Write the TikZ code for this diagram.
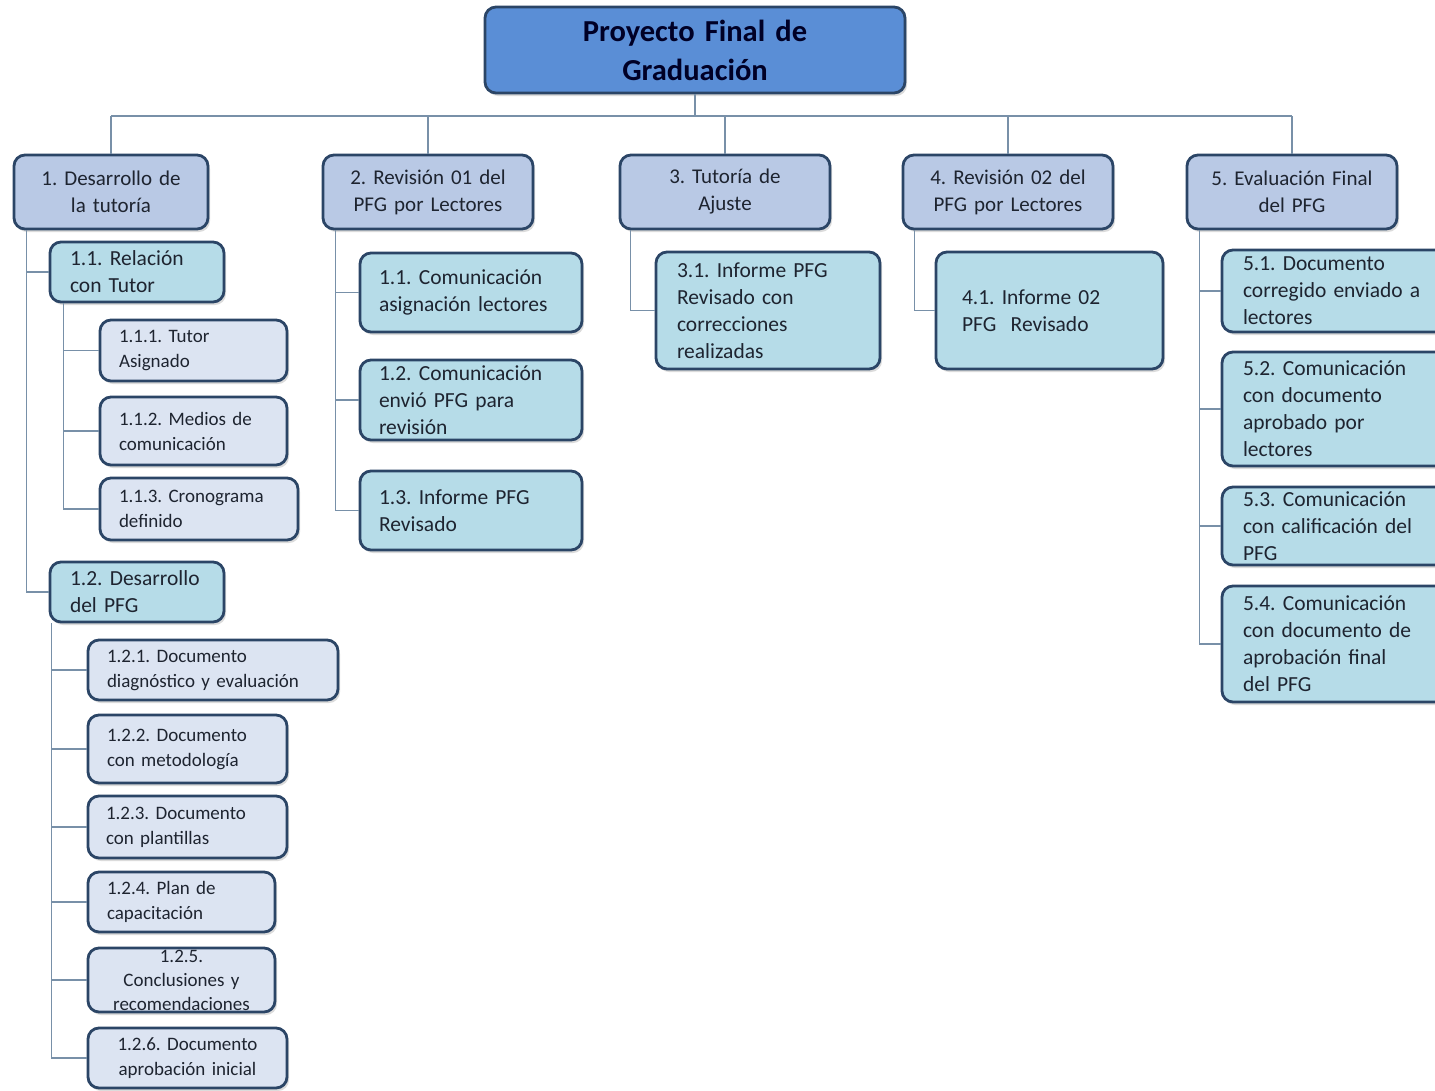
\documentclass[tikz,border=0pt]{standalone}
\usepackage{fontspec}
\setmainfont{Carlito}
\usetikzlibrary{shadows}
\frenchspacing

\definecolor{bordc}{HTML}{2B4566}
\definecolor{linec}{HTML}{7890A8}
\definecolor{topfill}{HTML}{5A8ED6}
\definecolor{onefill}{HTML}{B9C9E5}
\definecolor{twofill}{HTML}{B6DCE8}
\definecolor{threefill}{HTML}{DCE4F2}
\definecolor{txtc}{HTML}{1E2430}

\tikzset{
  box/.style={rounded corners=11pt, draw=bordc, line width=2.8pt,
    inner ysep=0pt, text=txtc,
    drop shadow={shadow xshift=2pt, shadow yshift=-3pt, opacity=0.28}},
  topbox/.style={box, fill=topfill, align=center, inner xsep=10pt,
    font=\fontsize{30.5}{39}\selectfont\bfseries, text=black!85!blue},
  lvone/.style={box, fill=onefill, align=center, inner xsep=6pt,
    font=\fontsize{21}{27}\selectfont},
  lvtwo/.style={box, fill=twofill, align=left,
    font=\fontsize{21.5}{27}\selectfont},
  lvthree/.style={box, fill=threefill, align=left,
    font=\fontsize{19}{25}\selectfont},
  link/.style={draw=linec, line width=1.6pt}
}

\begin{document}
\begin{tikzpicture}[x=1pt, y=-1pt]
\useasboundingbox (0,0) rectangle (1435,1090);
\clip (0,0) rectangle (1435,1090);
\fill[white] (0,0) rectangle (1435,1090);

% root
\node[topbox, minimum width=420, text width=400, minimum height=86] (top) at (695,50)
  {Proyecto Final de\\Graduación};

% first level
\node[lvone, minimum width=194, text width=182, minimum height=74] (n1) at (111,192) {1. Desarrollo de\\la tutoría};
\node[lvone, minimum width=210, text width=198, minimum height=74] (n2) at (428,192) {2. Revisión 01 del\\PFG por Lectores};
\node[lvone, minimum width=210, text width=198, minimum height=74] (n3) at (725,192) {3. Tutoría de\\Ajuste};
\node[lvone, minimum width=210, text width=198, minimum height=74] (n4) at (1008,192) {4. Revisión 02 del\\PFG por Lectores};
\node[lvone, minimum width=210, text width=198, minimum height=74] (n5) at (1292,192) {5. Evaluación Final\\del PFG};

% branch 1
\node[lvtwo, inner xsep=20pt, text width=134, minimum height=60] (n11) at (137,272) {1.1. Relación\\con Tutor};
\node[lvthree, inner xsep=19pt, text width=149, minimum height=61] (n111) at (193.5,350.5) {1.1.1. Tutor\\Asignado};
\node[lvthree, inner xsep=19pt, text width=149, minimum height=68] (n112) at (193.5,431) {1.1.2. Medios de\\comunicación};
\node[lvthree, inner xsep=19pt, text width=160, minimum height=62] (n113) at (199,509) {1.1.3. Cronograma\\definido};
\node[lvtwo, inner xsep=20pt, text width=134, minimum height=60] (n12) at (137,592) {1.2. Desarrollo\\del PFG};
\node[lvthree, inner xsep=19pt, text width=212, minimum height=60] (n121) at (213,670) {1.2.1. Documento\\diagnóstico y evaluación};
\node[lvthree, inner xsep=19pt, text width=161, minimum height=68] (n122) at (187.5,749) {1.2.2. Documento\\con metodología};
\node[lvthree, inner xsep=18pt, text width=163, minimum height=62] (n123) at (187.5,827) {1.2.3. Documento\\con plantillas};
\node[lvthree, inner xsep=19pt, text width=149, minimum height=60] (n124) at (181.5,902) {1.2.4. Plan de\\capacitación};
\node[lvthree, inner xsep=4pt, text width=179, minimum height=64, align=center,
      font=\fontsize{19}{24}\selectfont] (n125) at (181.5,980) {1.2.5.\\Conclusiones y\\recomendaciones};
\node[lvthree, inner xsep=4pt, text width=191, minimum height=60, align=center] (n126) at (187.5,1058) {1.2.6. Documento\\aprobación inicial};

% branch 2
\node[lvtwo, inner xsep=19pt, text width=184, minimum height=79] (n21) at (471,292.5) {1.1. Comunicación\\asignación lectores};
\node[lvtwo, inner xsep=19pt, text width=184, minimum height=80] (n22) at (471,400) {1.2. Comunicación\\envió PFG para\\revisión};
\node[lvtwo, inner xsep=19pt, text width=184, minimum height=79] (n23) at (471,510.5) {1.3. Informe PFG\\Revisado};

% branch 3
\node[lvtwo, inner xsep=21pt, text width=182, minimum height=117] (n31) at (768,310.5) {3.1. Informe PFG\\Revisado con\\correcciones\\realizadas};

% branch 4
\node[lvtwo, inner xsep=26pt, text width=175, minimum height=117] (n41) at (1049.5,310.5) {4.1. Informe 02\\PFG\ \ Revisado};

% branch 5 (boxes run past the right edge)
\node[lvtwo, inner xsep=21pt, text width=196, minimum height=82] (n51) at (1341,291) {5.1. Documento\\corregido enviado a\\lectores};
\node[lvtwo, inner xsep=21pt, text width=196, minimum height=114] (n52) at (1341,409) {5.2. Comunicación\\con documento\\aprobado por\\lectores};
\node[lvtwo, inner xsep=21pt, text width=196, minimum height=78] (n53) at (1341,526) {5.3. Comunicación\\con calificación del\\PFG};
\node[lvtwo, inner xsep=21pt, text width=196, minimum height=116] (n54) at (1341,644) {5.4. Comunicación\\con documento de\\aprobación final\\del PFG};

% connectors: root bus and drops
\coordinate (bus) at (0,116);
\path[link] (n1.north |- bus) -- (n5.north |- bus);
\path[link] (top.south) -- (top.south |- bus);
\foreach \n in {n1,n2,n3,n4,n5}
  \path[link] (\n.north) -- (\n.north |- bus);

% connectors: elbow spines under each parent
\foreach \c in {n11,n12}
  \path[link] ([xshift=14pt]n1.south west) |- (\c.west);
\foreach \c in {n111,n112,n113}
  \path[link] ([xshift=15pt]n11.south west) |- (\c.west);
\foreach \c in {n121,n122,n123,n124,n125,n126}
  \path[link] ([xshift=3pt]n12.south west) |- (\c.west);
\foreach \c in {n21,n22,n23}
  \path[link] ([xshift=14pt]n2.south west) |- (\c.west);
\path[link] ([xshift=12pt]n3.south west) |- (n31.west);
\path[link] ([xshift=13pt]n4.south west) |- (n41.west);
\foreach \c in {n51,n52,n53,n54}
  \path[link] ([xshift=14pt]n5.south west) |- (\c.west);
\end{tikzpicture}
\end{document}
